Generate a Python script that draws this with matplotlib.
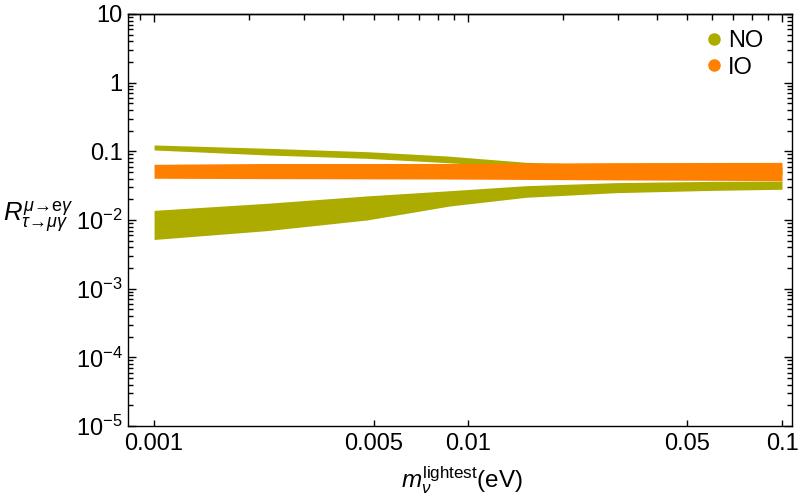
import matplotlib
matplotlib.use("Agg")
import matplotlib.pyplot as plt
import matplotlib.ticker as mticker
from matplotlib.lines import Line2D

# ---- data (band edges of the scatter clouds) ----
# NO, upper branch
no_up_x = [0.001, 0.00229, 0.00476, 0.00855, 0.0153, 0.03, 0.06, 0.1]
no_up_lo = [0.1046, 0.0885, 0.0791, 0.0684, 0.058, 0.052, 0.048, 0.046]
no_up_hi = [0.1237, 0.1107, 0.0988, 0.0855, 0.0692, 0.063, 0.060, 0.059]

# NO, lower branch
no_lo_x = [0.001, 0.00229, 0.00476, 0.00876, 0.0153, 0.0297, 0.06, 0.1]
no_lo_lo = [0.0052, 0.0070, 0.0100, 0.0160, 0.0214, 0.0250, 0.0270, 0.0280]
no_lo_hi = [0.0138, 0.0175, 0.0224, 0.0267, 0.0316, 0.0350, 0.0365, 0.0370]

# IO band
io_x = [0.001, 0.00229, 0.00855, 0.0297, 0.1]
io_lo = [0.0405, 0.0400, 0.0395, 0.0383, 0.0374]
io_hi = [0.0647, 0.0665, 0.0665, 0.0684, 0.0690]

x_ticks = [0.001, 0.005, 0.01, 0.05, 0.1]
x_labels = ["0.001", "0.005", "0.01", "0.05", "0.1"]
y_ticks = [1e1, 1e0, 1e-1, 1e-2, 1e-3, 1e-4, 1e-5]
y_labels = ["10", "1", "0.1", r"$10^{-2}$", r"$10^{-3}$", r"$10^{-4}$", r"$10^{-5}$"]

c_no = "#abab00"
c_io = "#ff8000"


def main():
    plt.rcParams.update({
        "font.family": ["Liberation Sans", "DejaVu Sans"],
        "mathtext.fontset": "custom",
        "mathtext.rm": "Liberation Sans",
        "mathtext.it": "Liberation Sans:italic",
        "mathtext.bf": "Liberation Sans:bold",
        "font.size": 17,
    })

    fig = plt.figure(figsize=(8, 4.99), dpi=100)
    ax = fig.add_axes([0.16, 0.1463, 0.83, 0.8257])

    ax.fill_between(no_up_x, no_up_lo, no_up_hi, color=c_no, lw=0)
    ax.fill_between(no_lo_x, no_lo_lo, no_lo_hi, color=c_no, lw=0)
    ax.fill_between(io_x, io_lo, io_hi, color=c_io, lw=0)

    ax.set_xscale("log")
    ax.set_yscale("log")
    ax.set_xlim(0.000826, 0.1076)
    ax.set_ylim(1e-5, 10)

    # bottom: only labelled ticks
    ax.xaxis.set_major_locator(mticker.FixedLocator(x_ticks))
    ax.xaxis.set_major_formatter(mticker.FixedFormatter(x_labels))
    ax.xaxis.set_minor_locator(mticker.NullLocator())
    ax.tick_params(axis="x", which="major", direction="in", length=4, width=1,
                   pad=5, top=False)

    # top: full log ticks, no labels
    top = ax.secondary_xaxis("top")
    top.xaxis.set_major_locator(mticker.LogLocator(base=10))
    top.xaxis.set_minor_locator(mticker.LogLocator(base=10, subs=range(2, 10)))
    top.xaxis.set_major_formatter(mticker.NullFormatter())
    top.xaxis.set_minor_formatter(mticker.NullFormatter())
    top.tick_params(which="major", direction="in", length=6, width=1)
    top.tick_params(which="minor", direction="in", length=4, width=1)
    top.spines["top"].set_linewidth(1)

    ax.yaxis.set_major_locator(mticker.FixedLocator(y_ticks))
    ax.yaxis.set_major_formatter(mticker.FixedFormatter(y_labels))
    ax.yaxis.set_minor_locator(mticker.LogLocator(base=10, subs=range(2, 10), numticks=20))
    ax.yaxis.set_minor_formatter(mticker.NullFormatter())
    ax.tick_params(axis="y", which="major", direction="in", length=6, width=1,
                   right=True, pad=4)
    ax.tick_params(axis="y", which="minor", direction="in", length=3.5, width=1,
                   right=True)

    for s in ax.spines.values():
        s.set_linewidth(1)

    fig.text(462 / 800, (499 - 487) / 499, r"$m_\nu^{\mathrm{lightest}}$(eV)",
             ha="center", va="baseline", fontsize=17.5)
    fig.text(3 / 800, (499 - 222) / 499,
             r"$R^{\mu→\mathrm{e}\gamma}_{\tau→\mu\gamma}$",
             ha="left", va="baseline", fontsize=18.5)

    handles = [Line2D([], [], ls="", marker="o", ms=8, color=c_no, mec=c_no),
               Line2D([], [], ls="", marker="o", ms=8, color=c_io, mec=c_io)]
    ax.legend(handles, ["NO", "IO"], loc="upper left",
              bbox_to_anchor=(707 / 800, (499 - 30) / 499),
              bbox_transform=fig.transFigure, frameon=False,
              handlelength=0.6, handletextpad=0.3, labelspacing=0.2,
              borderpad=0, borderaxespad=0, fontsize=17)

    fig.savefig("out.png", dpi=100)


if __name__ == "__main__":
    main()
